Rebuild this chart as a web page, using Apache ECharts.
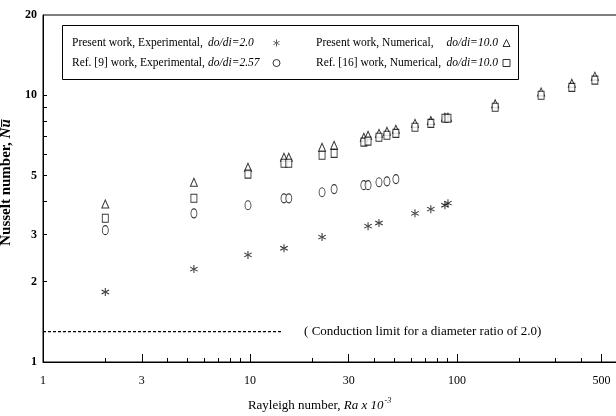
<!DOCTYPE html>
<html>
<head>
<meta charset="utf-8">
<script src="https://cdn.jsdelivr.net/npm/echarts@6/dist/echarts.min.js"></script>
<style>
html, body { margin: 0; padding: 0; background: #fff; }
#chart { width: 616px; height: 416px; }
</style>
</head>
<body>
<div id="chart"></div>
<script>
var myChart = echarts.init(document.getElementById('chart'));

// Ra x 10^-3 and Nusselt number
var raExp = [2.0, 5.36, 9.78, 14.6, 22.3, 37.2, 42.0, 62.7, 74.8, 87.5, 90.5];
var nuExp = [1.83, 2.23, 2.52, 2.67, 2.94, 3.23, 3.32, 3.61, 3.74, 3.87, 3.94];

var raRef9 = [2.0, 5.36, 9.78, 14.6, 15.4, 22.3, 25.5, 35.5, 37.2, 42.0, 45.9, 50.7];
var nuRef9 = [3.12, 3.61, 3.87, 4.11, 4.11, 4.33, 4.45, 4.60, 4.60, 4.72, 4.76, 4.85];

var raNum = [2.0, 5.36, 9.78, 14.6, 15.4, 22.3, 25.5, 35.5, 37.2, 42.0, 45.9, 50.7, 62.7, 74.8, 87.5, 90.5, 153, 255, 359, 464];
var nuNum = [3.91, 4.72, 5.37, 5.86, 5.86, 6.39, 6.50, 6.96, 7.08, 7.20, 7.33, 7.46, 7.85, 8.05, 8.28, 8.28, 9.30, 10.3, 11.1, 11.8];

var raRef16 = [2.0, 5.36, 9.78, 14.6, 15.4, 22.3, 25.5, 35.5, 37.2, 42.0, 45.9, 50.7, 62.7, 74.8, 87.5, 90.5, 153, 255, 359, 464];
var nuRef16 = [3.46, 4.11, 5.06, 5.56, 5.56, 5.96, 6.06, 6.67, 6.73, 6.96, 7.08, 7.20, 7.59, 7.85, 8.20, 8.20, 9.02, 10.0, 10.7, 11.4];

// conduction limit, do/di = 2.0
var condRa = [1, 14.3];
var condNu = [1.3, 1.3];

var xLabels = [1, 3, 10, 30, 100, 500];
var xMajorTicks = [3, 10, 30, 100, 500];
var xMinorTicks = [2, 4, 5, 6, 7, 8, 9, 20, 40, 50, 60, 70, 80, 90, 200, 300, 400];
var yLabels = [1, 2, 3, 5, 10, 20];
var yTicks = [2, 3, 4, 5, 6, 7, 8, 9, 10];

var names = [
    'Present work, Experimental, do/di=2.0',
    'Ref. [9] work, Experimental, do/di=2.57',
    'Present work, Numerical, do/di=10.0',
    'Ref. [16] work, Numerical, do/di=10.0'
];

function pairs(xs, ys) {
    return xs.map(function (x, i) { return [x, ys[i]]; });
}

var serif = 'Liberation Serif';
// asterisk made of three bars
var star = 'path://M44 0L56 0L56 100L44 100Z M96.4 30.2L90.4 19.8L3.6 69.8L9.6 80.2Z M90.4 80.2L96.4 69.8L9.6 19.8L3.6 30.2Z';

function legendFmt(name) {
    var k = name.lastIndexOf(', ');
    return '{a|' + name.slice(0, k + 2) + '}{b|' + name.slice(k + 2) + '}';
}

var hollow = { color: '#fff', borderColor: '#000', borderWidth: 1 };

function legendBox(data, left, wa, wb, alignB) {
    return {
        data: data,
        orient: 'vertical',
        left: left, top: 36, padding: 0, itemGap: 6,
        align: 'right', itemWidth: 7, itemHeight: 7,
        selectedMode: false,
        itemStyle: { borderWidth: 1 },
        formatter: legendFmt,
        textStyle: {
            fontFamily: serif, fontSize: 11.5, color: '#000', lineHeight: 14,
            rich: {
                a: { fontFamily: serif, fontSize: 11.5, color: '#000', width: wa, align: 'left' },
                b: { fontFamily: serif, fontSize: 11.5, color: '#000', fontStyle: 'italic', width: wb, align: alignB }
            }
        }
    };
}

var option = {
    animation: false,
    grid: {
        left: 43, right: -2, top: 15, bottom: 54,
        outerBoundsMode: 'none',
        show: true, borderColor: '#000', borderWidth: 1
    },
    legend: [
        legendBox([names[0], names[1]], 72, 136, 60, 'left'),
        legendBox([names[2], names[3]], 316, 127, 55, 'right')
    ],
    graphic: [{
        type: 'rect',
        shape: { x: 62.5, y: 25.5, width: 456, height: 54 },
        style: { fill: null, stroke: '#000', lineWidth: 1 },
        silent: true
    }],
    xAxis: [{
        type: 'log', logBase: 10, min: 1, max: 600,
        position: 'bottom',
        axisLine: { lineStyle: { color: '#000', width: 1 } },
        axisTick: { inside: true, length: 8, customValues: xMajorTicks, lineStyle: { color: '#000' } },
        axisLabel: { customValues: xLabels, color: '#000', fontFamily: serif, fontSize: 12, margin: 13 },
        splitLine: { show: false },
        name: '{a|Rayleigh number, }{i|Ra x 10}{s|-3}',
        nameLocation: 'middle', nameGap: 35,
        nameTextStyle: {
            color: '#000', fontFamily: serif, fontSize: 13, padding: [0, 22, 0, 0],
            rich: {
                a: { fontFamily: serif, fontSize: 13, color: '#000' },
                i: { fontFamily: serif, fontSize: 13, fontStyle: 'italic', color: '#000' },
                s: { fontFamily: serif, fontSize: 8, fontStyle: 'italic', color: '#000', padding: [0, 0, 9, 1] }
            }
        }
    }, {
        type: 'log', logBase: 10, min: 1, max: 600,
        position: 'bottom',
        axisLine: { show: false },
        axisTick: { inside: true, length: 4, customValues: xMinorTicks, lineStyle: { color: '#000' } },
        axisLabel: { show: false },
        splitLine: { show: false }
    }],
    yAxis: {
        type: 'log', logBase: 10, min: 1, max: 20,
        axisLine: { show: true, lineStyle: { color: '#000', width: 1 } },
        axisTick: { show: true, inside: true, length: 4, customValues: yTicks, lineStyle: { color: '#000' } },
        axisLabel: { customValues: yLabels, color: '#000', fontFamily: serif, fontSize: 12, fontWeight: 'bold', margin: 6 },
        splitLine: { show: false },
        name: '{a|Nusselt number, }{b|N\u0305u\u0305}',
        nameLocation: 'middle', nameRotate: 90, nameGap: 14,
        nameTextStyle: {
            color: '#000', fontFamily: serif, fontSize: 15, fontWeight: 'bold', padding: [0, 0, 0, 12],
            rich: {
                a: { fontFamily: serif, fontSize: 15, fontWeight: 'bold', color: '#000' },
                b: { fontFamily: serif, fontSize: 15, fontWeight: 'bold', fontStyle: 'italic', color: '#000' }
            }
        }
    },
    series: [{
        name: names[0], type: 'scatter', symbol: star, symbolSize: 8,
        itemStyle: { color: '#000' },
        data: pairs(raExp, nuExp)
    }, {
        name: names[1], type: 'scatter', symbol: 'circle', symbolSize: [6, 9],
        itemStyle: hollow,
        data: pairs(raRef9, nuRef9)
    }, {
        name: names[2], type: 'scatter', symbol: 'triangle', symbolSize: [7, 8],
        itemStyle: hollow,
        data: pairs(raNum, nuNum)
    }, {
        name: names[3], type: 'scatter', symbol: 'rect', symbolSize: [6, 8],
        itemStyle: hollow,
        data: pairs(raRef16, nuRef16)
    }, {
        name: 'Conduction limit', type: 'line', symbol: 'none', silent: true,
        lineStyle: { color: '#000', width: 1.2, type: [3, 2] },
        endLabel: {
            show: true, distance: 22, color: '#000', fontFamily: serif, fontSize: 13,
            formatter: '( Conduction limit for a diameter ratio of 2.0)'
        },
        data: pairs(condRa, condNu)
    }]
};

myChart.setOption(option);

window.addEventListener('resize', function () {
    myChart.resize();
});
</script>
</body>
</html>
